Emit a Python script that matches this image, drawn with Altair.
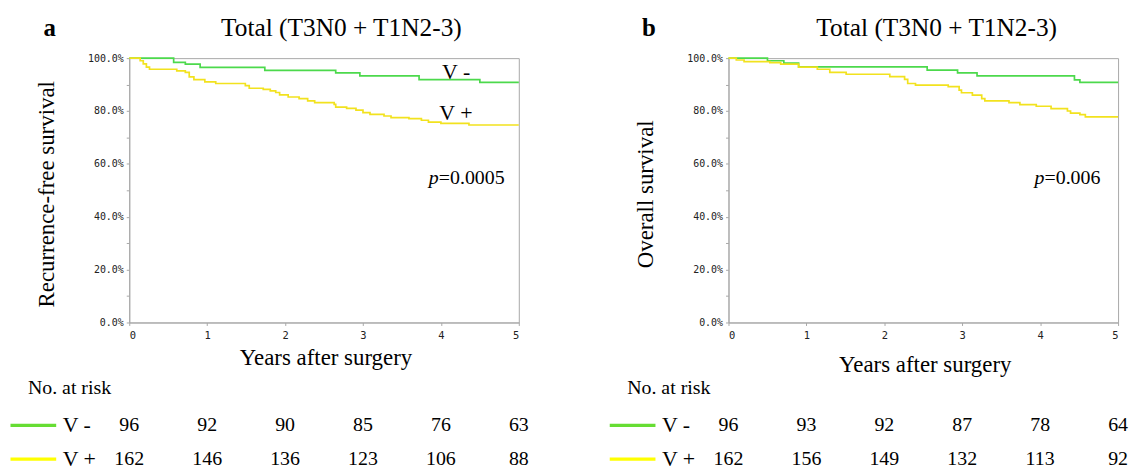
import altair as alt
import pandas as pd

# ---------------- data ----------------
YEARS = [0, 1, 2, 3, 4, 5]
GROUPS = ["V -", "V +"]

# panel a: recurrence-free survival (%)
A_NEG_T = [0, 0.57, 0.72, 0.91, 1.74, 2.65, 2.96, 3.72, 4.50, 5.0]
A_NEG_S = [100, 98.4, 97.7, 96.5, 95.4, 94.4, 93.3, 91.9, 90.8, 90.8]
A_POS_T = [0, 0.14, 0.18, 0.22, 0.26, 0.61, 0.72, 0.77, 0.83, 0.97, 1.11, 1.49, 1.54, 1.72, 1.81,
           1.88, 1.93, 2.04, 2.18, 2.29, 2.38, 2.63, 2.65, 2.79, 2.91, 3.00, 3.09, 3.27, 3.36, 3.59,
           3.75, 3.84, 4.00, 4.36, 5.0]
A_POS_S = [100, 99.0, 97.8, 96.6, 95.8, 95.2, 94.6, 92.9, 91.9, 91.0, 90.4, 89.6, 88.6, 88.2, 87.6,
           87.0, 86.1, 85.3, 84.7, 83.8, 83.2, 82.5, 81.5, 81.0, 80.3, 79.4, 78.7, 78.1, 77.5, 77.1,
           76.5, 75.8, 75.3, 74.7, 74.7]
A_RISK_NEG = [96, 92, 90, 85, 76, 63]
A_RISK_POS = [162, 146, 136, 123, 106, 88]

# panel b: overall survival (%)
B_NEG_T = [0, 0.50, 0.71, 0.90, 2.55, 2.94, 3.19, 4.44, 4.51, 5.0]
B_NEG_S = [100, 99.0, 98.1, 96.7, 95.5, 94.4, 93.3, 91.8, 90.8, 90.8]
B_POS_T = [0, 0.10, 0.20, 0.53, 0.67, 0.90, 1.14, 1.30, 1.51, 2.07, 2.26, 2.30, 2.40, 2.82, 2.96,
           2.99, 3.13, 3.25, 3.29, 3.60, 3.74, 3.95, 4.14, 4.35, 4.39, 4.51, 4.58, 5.0]
B_POS_S = [100, 99.3, 98.7, 98.3, 97.7, 96.6, 95.8, 94.6, 93.9, 93.0, 92.0, 90.4, 89.8, 89.2, 87.9,
           86.9, 86.0, 84.7, 83.8, 83.2, 82.4, 81.8, 80.9, 80.0, 79.2, 78.6, 77.8, 77.8]
B_RISK_NEG = [96, 93, 92, 87, 78, 64]
B_RISK_POS = [162, 156, 149, 132, 113, 92]

TITLE = "Total (T3N0 + T1N2-3)"

# ---------------- style ----------------
W, H = 392, 266
SERIF = "Liberation Serif"
MONO = "DejaVu Sans Mono"
GREEN = "#4cd94c"
YELLOW = "#f2e21e"
LEG_GREEN = "#66dd33"
LEG_YELLOW = "#ffff00"
AXIS_GRAY = "#a8a8a8"

ROW_NEG_Y = 369.5
ROW_POS_Y = 403.5


def one():
    return alt.Chart(pd.DataFrame({"k": [0]}))


def txt(text, x, y, size, align="center", baseline="alphabetic", **kw):
    return one().mark_text(text=text, font=SERIF, fontSize=size, align=align,
                           baseline=baseline, color="black", **kw).encode(
        x=alt.value(x), y=alt.value(y))


def panel(letter, ytitle, pval, pval_x, tneg, sneg, tpos, spos, rneg, rpos,
          title_dx, xtitle_y, curve_labels):
    df = pd.DataFrame({
        "t": tneg + tpos,
        "s": sneg + spos,
        "g": [GROUPS[0]] * len(tneg) + [GROUPS[1]] * len(tpos),
    })
    xenc = alt.X("t:Q", scale=alt.Scale(domain=[0, 5], nice=False, zero=False),
                 axis=alt.Axis(values=[i * 0.5 for i in range(11)],
                               labelExpr="datum.value % 1 === 0 ? format(datum.value, 'd') : ''",
                               title=None, grid=False, labelPadding=5, labelFontSize=10.5))
    yenc = alt.Y("s:Q", scale=alt.Scale(domain=[0, 100], nice=False, zero=True),
                 axis=alt.Axis(values=list(range(0, 101, 10)),
                               labelExpr="datum.value % 20 === 0 ? format(datum.value, '.1f') + '%' : ''",
                               title=None, grid=False, labelPadding=3))
    lines = alt.Chart(df).mark_line(interpolate="step-after", strokeWidth=1.7).encode(
        x=xenc, y=yenc,
        color=alt.Color("g:N", scale=alt.Scale(domain=GROUPS, range=[GREEN, YELLOW]), legend=None),
        order=alt.Order("t:Q"),
    )

    layers = [lines]

    risk_neg = alt.Chart(pd.DataFrame({"t": YEARS, "n": rneg})).mark_text(
        font=SERIF, fontSize=20, baseline="middle", color="black").encode(
        x="t:Q", y=alt.value(ROW_NEG_Y), text="n:Q")
    risk_pos = alt.Chart(pd.DataFrame({"t": YEARS, "n": rpos})).mark_text(
        font=SERIF, fontSize=20, baseline="middle", color="black").encode(
        x="t:Q", y=alt.value(ROW_POS_Y), text="n:Q")
    layers += [risk_neg, risk_pos]

    leg_neg = one().mark_rule(color=LEG_GREEN, strokeWidth=3.3).encode(
        x=alt.value(-119.5), x2=alt.value(-73.5), y=alt.value(ROW_NEG_Y))
    leg_pos = one().mark_rule(color=LEG_YELLOW, strokeWidth=3.3).encode(
        x=alt.value(-119.5), x2=alt.value(-73.5), y=alt.value(ROW_POS_Y))
    layers += [leg_neg, leg_pos]
    layers += [txt("V -", -67, ROW_NEG_Y, 22, align="left", baseline="middle"),
               txt("V +", -67, ROW_POS_Y, 22, align="left", baseline="middle"),
               txt("No. at risk", -102, 331.5, 20, align="left", baseline="middle")]

    # titles and labels
    layers += [txt(TITLE, W / 2 + title_dx, -22.7, 25.5),
               txt(letter, -80, -22.7, 25, fontWeight="bold"),
               txt(ytitle, -83, 137, 23, baseline="middle", angle=270),
               txt("Years after surgery", W / 2 + 2, xtitle_y, 23)]

    # p value: italic p + rest
    layers += [txt("p", pval_x, 126.5, 20, align="right", fontStyle="italic"),
               txt("=" + pval, pval_x, 126.5, 20, align="left")]

    if curve_labels:
        layers += [txt("V -", 314.8, 13.5, 22, align="left", baseline="middle"),
                   txt("V +", 312, 55, 22, align="left", baseline="middle")]

    return alt.layer(*layers).properties(width=W, height=H)


pa = panel("a", "Recurrence-free survival", "0.0005", 311.5,
           A_NEG_T, A_NEG_S, A_POS_T, A_POS_S, A_RISK_NEG, A_RISK_POS,
           17.5, 309, True)
pb = panel("b", "Overall survival", "0.006", 318,
           B_NEG_T, B_NEG_S, B_POS_T, B_POS_S, B_RISK_NEG, B_RISK_POS,
           13.5, 316, False)

chart = alt.hconcat(pa, pb, spacing=78).properties(
    padding={"left": 0, "top": 5, "right": 0, "bottom": 0}
).configure_view(
    stroke=AXIS_GRAY, strokeWidth=1
).configure_axis(
    domainColor=AXIS_GRAY, tickColor=AXIS_GRAY, tickSize=3,
    labelFont=MONO, labelFontSize=10, labelColor="#222222"
)

chart.save("out.html", embed_options={"renderer": "svg", "actions": False})
